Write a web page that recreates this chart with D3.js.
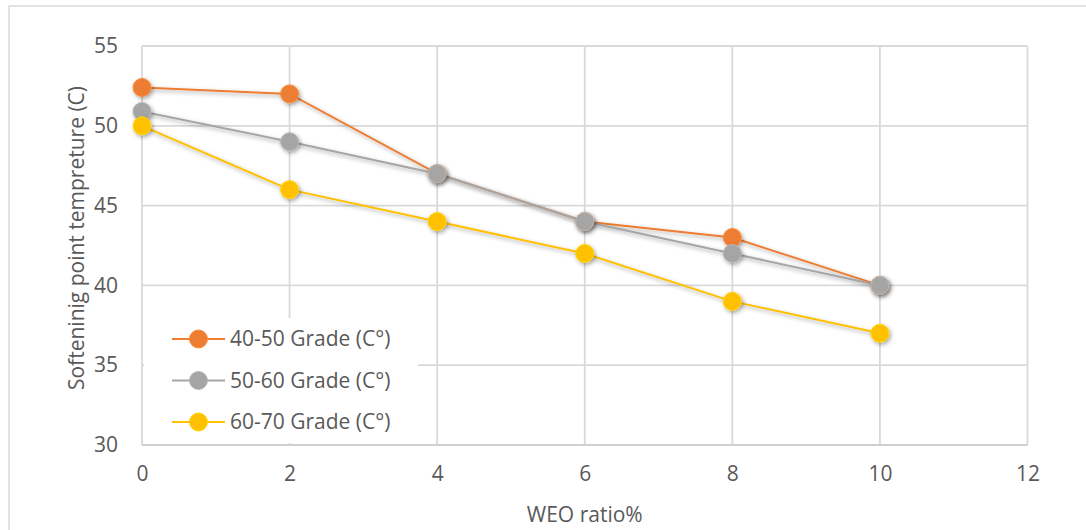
<!DOCTYPE html>
<html><head><meta charset="utf-8">
<script src="https://cdn.jsdelivr.net/npm/d3@7"></script>
<style>body{margin:0;background:#fff}svg{display:block}text{font-family:"Open Sans",sans-serif;fill:#595959}</style>
</head><body>
<svg id="c" width="1086" height="530"></svg>
<script>
const xValues = [0, 2, 4, 6, 8, 10];
const seriesNames = ["40-50 Grade (C°)", "50-60 Grade (C°)", "60-70 Grade (C°)"];
const grade4050 = [52.4, 52, 47, 44, 43, 40];
const grade5060 = [50.9, 49, 47, 44, 42, 40];
const grade6070 = [50, 46, 44, 42, 39, 37];
const seriesColors = ["#ED7D31", "#A5A5A5", "#FFC000"];
const xTicks = [0, 2, 4, 6, 8, 10, 12];
const yTicks = [30, 35, 40, 45, 50, 55];
const xTitle = "WEO ratio%";
const yTitle = "Softeninig point tempreture (C)";

const series = [grade4050, grade5060, grade6070].map((v, i) => ({name: seriesNames[i], color: seriesColors[i], values: v}));

const svg = d3.select("#c");
const L = 142, R = 1027.5, T = 46, B = 445;
const FS = "21px";
const x = d3.scaleLinear().domain([0, 12]).range([L, R]);
const y = d3.scaleLinear().domain([30, 55]).range([B, T]);

// outer border
svg.append("rect").attr("x", 9).attr("y", 6).attr("width", 1200).attr("height", 600)
  .attr("fill", "none").attr("stroke", "#d9d9d9").attr("stroke-width", 1.5);

const defs = svg.append("defs");
const f = defs.append("filter").attr("id", "sh").attr("x", "-50%").attr("y", "-50%").attr("width", "200%").attr("height", "200%");
f.append("feDropShadow").attr("dx", 1.5).attr("dy", 2).attr("stdDeviation", 2).attr("flood-color", "#000").attr("flood-opacity", 0.35);

// grid
svg.append("g").selectAll("line").data(yTicks.filter(d => d !== 30)).join("line")
  .attr("x1", L).attr("x2", R).attr("y1", d => y(d)).attr("y2", d => y(d))
  .attr("stroke", "#d9d9d9").attr("stroke-width", 1.8);
svg.append("g").selectAll("line").data(xTicks).join("line")
  .attr("x1", d => x(d)).attr("x2", d => x(d)).attr("y1", T).attr("y2", B)
  .attr("stroke", "#d9d9d9").attr("stroke-width", 1.8);
// bottom axis line
svg.append("line").attr("x1", L).attr("x2", R).attr("y1", B).attr("y2", B)
  .attr("stroke", "#d0d0d0").attr("stroke-width", 2);

const yAxis = svg.append("g").attr("transform", `translate(${L},0)`)
  .call(d3.axisLeft(y).tickValues(yTicks).tickSize(0).tickPadding(24));
yAxis.select(".domain").remove();
yAxis.selectAll("text").style("font-size", FS).attr("fill", "#595959").attr("font-family", "Open Sans");

const xAxis = svg.append("g").attr("transform", `translate(0,${B})`)
  .call(d3.axisBottom(x).tickValues(xTicks).tickSize(0).tickPadding(21));
xAxis.select(".domain").remove();
xAxis.selectAll("text").style("font-size", FS).attr("fill", "#595959").attr("font-family", "Open Sans");

// titles
svg.append("text").attr("x", x(6)).attr("y", 522).attr("text-anchor", "middle")
  .style("font-size", FS).text(xTitle);
svg.append("text").attr("transform", "translate(84,238) rotate(-90)").attr("text-anchor", "middle")
  .style("font-size", FS).text(yTitle);

// legend background
svg.append("rect").attr("x", 144).attr("y", 318).attr("width", 274).attr("height", 125).attr("fill", "#fff");

// series
const line = d3.line().x((d, i) => x(xValues[i])).y(d => y(d));
const sg = svg.append("g");
series.forEach(s => {
  sg.append("path").attr("d", line(s.values)).attr("fill", "none").attr("stroke", s.color)
    .attr("stroke-width", 2).attr("filter", "url(#sh)");
});
series.forEach(s => {
  sg.append("g").selectAll("circle").data(s.values).join("circle")
    .attr("cx", (d, i) => x(xValues[i])).attr("cy", d => y(d)).attr("r", 9)
    .attr("fill", s.color).attr("stroke", d3.color(s.color).brighter(0.3)).attr("stroke-width", 1)
    .attr("filter", "url(#sh)");
});

// legend
const lg = svg.append("g");
series.forEach((s, i) => {
  const yy = 339 + i * 41.5;
  lg.append("line").attr("x1", 172).attr("x2", 225).attr("y1", yy).attr("y2", yy).attr("stroke", s.color).attr("stroke-width", 2);
  lg.append("circle").attr("cx", 198.5).attr("cy", yy).attr("r", 9).attr("fill", s.color)
    .attr("stroke", d3.color(s.color).brighter(0.3)).attr("stroke-width", 1);
  lg.append("text").attr("x", 230).attr("y", yy).attr("dy", "0.35em").style("font-size", FS).text(s.name);
});
</script>
</body></html>
